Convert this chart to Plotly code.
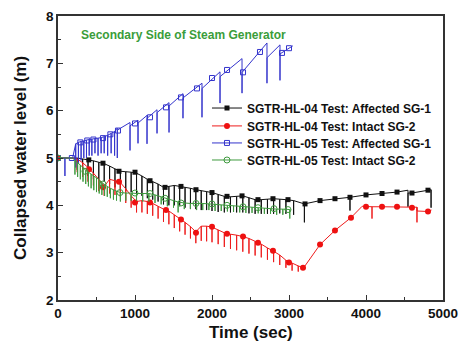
import plotly.graph_objects as go

# ---------------- data ----------------
# Each series: line vertices as (time, level) with an optional downward spike
# to "bot" at that time (bot == top means plain vertex).

# SGTR-HL-04 Test: Affected SG-1 (black)
blk_t   = [0, 200, 250, 320, 390, 460, 530, 600, 670, 740, 810, 880, 950, 1020, 1090, 1160,
           1230, 1300, 1370, 1440, 1510, 1580, 1650, 1720, 1790, 1860, 1930, 2000, 2080, 2160,
           2240, 2320, 2400, 2480, 2560, 2640, 2720, 2800, 2880, 2960, 3060, 3200, 3403, 3597,
           3792, 4000, 4208, 4403, 4545, 4546, 4597, 4805, 4845]
blk_top = [5.00, 5.00, 5.00, 4.98, 4.96, 4.94, 4.91, 4.88, 4.83, 4.77, 4.72, 4.71, 4.70, 4.68,
           4.62, 4.55, 4.50, 4.45, 4.38, 4.40, 4.42, 4.40, 4.38, 4.36, 4.33, 4.31, 4.29, 4.27,
           4.23, 4.19, 4.18, 4.19, 4.20, 4.16, 4.12, 4.12, 4.13, 4.14, 4.13, 4.12, 4.10, 4.03,
           4.10, 4.14, 4.17, 4.22, 4.25, 4.28, 4.32, 4.26, 4.26, 4.32, 4.33]
blk_bot = [5.00, 5.00, 4.75, 4.70, 4.62, 4.55, 4.55, 4.50, 4.45, 4.38, 4.30, 4.30, 4.28, 4.25,
           4.20, 4.15, 4.12, 4.08, 4.02, 4.00, 4.00, 3.98, 3.95, 3.93, 3.92, 3.90, 3.90, 3.88,
           3.86, 3.85, 3.85, 3.85, 3.85, 3.83, 3.82, 3.82, 3.82, 3.82, 3.83, 3.82, 3.80, 3.64,
           4.10, 4.14, 3.89, 4.22, 4.25, 4.28, 3.97, 4.26, 4.26, 4.32, 3.95]
blk_mt  = [0, 400, 584, 792, 1000, 1195, 1390, 1597, 1792, 2000, 2195, 2390, 2597, 2792, 2987,
           3208, 3403, 3597, 3792, 4000, 4208, 4403, 4597, 4805]
blk_my  = [5.00, 4.96, 4.89, 4.72, 4.70, 4.52, 4.38, 4.40, 4.33, 4.27, 4.19, 4.20, 4.12, 4.14,
           4.12, 4.03, 4.10, 4.14, 4.17, 4.22, 4.25, 4.28, 4.26, 4.32]

# SGTR-HL-04 Test: Intact SG-2 (red)
red_t   = [0, 180, 250, 320, 390, 460, 530, 600, 670, 740, 810, 880, 950, 1020, 1090, 1160,
           1230, 1300, 1370, 1440, 1510, 1580, 1650, 1720, 1790, 1860, 1930, 2000, 2080, 2160,
           2240, 2320, 2400, 2480, 2560, 2640, 2720, 2800, 2880, 2960, 3040, 3120, 3190, 3403,
           3597, 3805, 3950, 4078, 4208, 4403, 4597, 4662, 4663, 4805, 4850]
red_top = [5.00, 5.00, 4.98, 4.90, 4.80, 4.68, 4.55, 4.40, 4.55, 4.52, 4.48, 4.35, 4.20, 4.08,
           4.10, 4.08, 4.04, 3.98, 3.92, 3.88, 3.80, 3.72, 3.64, 3.55, 3.44, 3.56, 3.56, 3.54,
           3.48, 3.42, 3.39, 3.37, 3.34, 3.30, 3.24, 3.18, 3.10, 3.03, 2.95, 2.84, 2.78, 2.72,
           2.68, 3.17, 3.47, 3.74, 3.98, 3.97, 3.97, 3.97, 3.96, 3.96, 3.88, 3.87, 3.90]
red_bot = [5.00, 5.00, 4.70, 4.60, 4.50, 4.42, 4.30, 4.20, 4.25, 4.22, 4.18, 4.05, 3.95, 3.85,
           3.85, 3.82, 3.78, 3.72, 3.65, 3.60, 3.52, 3.45, 3.38, 3.30, 3.20, 3.25, 3.24, 3.22,
           3.18, 3.12, 3.08, 3.05, 3.02, 2.98, 2.94, 2.90, 2.85, 2.80, 2.74, 2.68, 2.62, 2.60,
           2.68, 3.17, 3.47, 3.74, 3.98, 3.72, 3.97, 3.97, 3.96, 3.64, 3.88, 3.87, 3.90]
red_mt  = [0, 403, 584, 792, 1000, 1195, 1403, 1597, 1792, 2000, 2195, 2403, 2597, 2792, 3000,
           3182, 3403, 3597, 3805, 4000, 4208, 4403, 4597, 4805]
red_my  = [5.00, 4.76, 4.38, 4.50, 4.06, 4.06, 3.90, 3.70, 3.42, 3.55, 3.40, 3.34, 3.21, 3.04,
           2.79, 2.68, 3.17, 3.47, 3.74, 3.97, 3.97, 3.97, 3.95, 3.87]

# SGTR-HL-05 Test: Affected SG-1 (blue)
blu_t   = [0, 60, 90, 190, 230, 265, 300, 335, 370, 405, 440, 480, 520, 560, 600, 645, 690,
           735, 770, 771, 935, 936, 1039, 1040, 1156, 1157, 1286, 1287, 1442, 1443, 1623, 1624,
           1870, 1871, 2104, 2105, 2390, 2391, 2714, 2715, 2883, 2884, 3050]
blu_top = [5.00, 5.00, 5.00, 5.00, 5.30, 5.33, 5.35, 5.36, 5.38, 5.39, 5.40, 5.41, 5.42, 5.43,
           5.45, 5.48, 5.52, 5.56, 5.63, 5.59, 5.75, 5.68, 5.80, 5.74, 5.90, 5.84, 6.02, 5.96,
           6.17, 6.10, 6.36, 6.27, 6.58, 6.47, 6.82, 6.72, 7.10, 6.81, 7.43, 7.12, 7.39, 7.20,
           7.37]
blu_bot = [5.00, 5.00, 4.62, 5.00, 4.80, 4.90, 4.95, 5.00, 5.00, 5.05, 5.05, 5.10, 5.05, 5.10,
           5.10, 5.05, 5.10, 5.05, 5.00, 5.59, 5.16, 5.68, 5.31, 5.74, 5.30, 5.84, 5.52, 5.96,
           5.54, 6.10, 5.84, 6.27, 5.86, 6.47, 6.16, 6.72, 6.37, 6.81, 6.58, 7.12, 6.64, 7.20,
           7.37]
blu_mt  = [0, 180, 290, 380, 460, 584, 680, 779, 1000, 1195, 1403, 1597, 1805, 2000, 2195,
           2403, 2623, 2909, 3000]
blu_my  = [5.00, 5.00, 5.33, 5.37, 5.39, 5.42, 5.50, 5.58, 5.73, 5.86, 6.07, 6.28, 6.47, 6.69,
           6.86, 6.81, 7.24, 7.22, 7.32]

# SGTR-HL-05 Test: Intact SG-2 (green)
grn_t   = [0, 190, 220, 255, 290, 325, 360, 395, 430, 465, 500, 535, 570, 605, 640, 680, 720,
           760, 810, 880, 950, 1020, 1100, 1180, 1260, 1340, 1420, 1500, 1560, 1640, 1720, 1800,
           1880, 1960, 2040, 2120, 2200, 2280, 2360, 2440, 2520, 2600, 2680, 2760, 2840, 2920,
           3010, 3020]
grn_top = [5.00, 5.00, 4.95, 4.90, 4.85, 4.80, 4.74, 4.70, 4.66, 4.62, 4.58, 4.54, 4.48, 4.44,
           4.40, 4.36, 4.33, 4.30, 4.27, 4.26, 4.26, 4.25, 4.25, 4.25, 4.22, 4.18, 4.14, 4.10,
           4.07, 4.05, 4.04, 4.04, 4.04, 4.03, 4.02, 4.01, 4.00, 3.99, 3.98, 3.97, 3.96, 3.95,
           3.94, 3.93, 3.92, 3.92, 3.91, 3.91]
grn_bot = [5.00, 5.00, 4.65, 4.60, 4.55, 4.50, 4.45, 4.40, 4.36, 4.32, 4.28, 4.25, 4.22, 4.20,
           4.18, 4.15, 4.12, 4.10, 4.08, 4.10, 4.10, 4.10, 4.08, 4.08, 4.05, 4.02, 3.98, 3.95,
           3.85, 3.92, 3.92, 3.90, 3.90, 3.90, 3.88, 3.88, 3.87, 3.86, 3.85, 3.84, 3.84, 3.83,
           3.82, 3.82, 3.80, 3.80, 3.72, 3.91]
grn_mt  = [0, 350, 584, 805, 1000, 1195, 1390, 1597, 1792, 2000, 2195, 2403, 2597, 2805, 2987]
grn_my  = [5.00, 4.72, 4.45, 4.27, 4.26, 4.25, 4.15, 4.05, 4.04, 4.03, 4.00, 3.97, 3.95, 3.93,
           3.91]

names = ["SGTR-HL-04 Test: Affected SG-1", "SGTR-HL-04 Test: Intact SG-2",
         "SGTR-HL-05 Test: Affected SG-1", "SGTR-HL-05 Test: Intact SG-2"]
x_ticks = [0, 1000, 2000, 3000, 4000, 5000]
y_ticks = [2, 3, 4, 5, 6, 7, 8]


def polyline(ts, tops, bots):
    xs, ys = [], []
    for t, a, b in zip(ts, tops, bots):
        xs.append(t); ys.append(a)
        if b != a:
            xs += [t, t]; ys += [b, a]
    return xs, ys


series = [
    (blk_t, blk_top, blk_bot, blk_mt, blk_my, "#111111",
     dict(symbol="square", size=5, color="#111111", line=dict(width=0))),
    (red_t, red_top, red_bot, red_mt, red_my, "#ee1c1c",
     dict(symbol="circle", size=6, color="#ee1111", line=dict(width=0))),
    (blu_t, blu_top, blu_bot, blu_mt, blu_my, "#3434cc",
     dict(symbol="square-open", size=5, color="#3434cc", line=dict(width=1))),
    (grn_t, grn_top, grn_bot, grn_mt, grn_my, "#3f9a3f",
     dict(symbol="circle-open", size=6, color="#3f9a3f", line=dict(width=1))),
]

font_family = "Liberation Sans, Arial, sans-serif"
legend_ids = ["legend", "legend2", "legend3", "legend4"]
legend_y = [0.676, 0.613, 0.553, 0.493]

fig = go.Figure()
for (ts, tops, bots, mt, my, col, mk), nm in zip(series, names):
    xs, ys = polyline(ts, tops, bots)
    fig.add_trace(go.Scatter(x=xs, y=ys, mode="lines", line=dict(color=col, width=1),
                             showlegend=False, hoverinfo="skip"))
    fig.add_trace(go.Scatter(x=mt, y=my, mode="markers", marker=mk, showlegend=False))
for (ts, tops, bots, mt, my, col, mk), nm, lid in zip(series, names, legend_ids):
    fig.add_trace(go.Scatter(x=[None], y=[None], mode="lines+markers", name=nm, legend=lid,
                             line=dict(color=col, width=1), marker=mk))

axis_common = dict(showline=True, linewidth=1.5, linecolor="#333", mirror=True,
                   ticks="inside", ticklen=5, tickwidth=1.2, tickcolor="#333",
                   showgrid=False, zeroline=False, automargin=False,
                   tickfont=dict(family=font_family, size=13.5, color="#111", weight="bold"))

legend_layout = {}
for lid, ly in zip(legend_ids, legend_y):
    legend_layout[lid] = dict(x=0.387, y=ly, xanchor="left", yanchor="middle",
                              bgcolor="rgba(255,255,255,0)", borderwidth=0,
                              font=dict(family=font_family, size=12, color="#111",
                                        weight="bold"))

fig.update_layout(
    width=462, height=346,
    margin=dict(l=58, r=19, t=16, b=46),
    paper_bgcolor="white", plot_bgcolor="white",
    showlegend=True,
    xaxis=dict(range=[0, 5000], tickvals=x_ticks, **axis_common,
               minor=dict(dtick=500, ticks="inside", ticklen=3, tickcolor="#333")),
    yaxis=dict(range=[2, 8], tickvals=y_ticks, **axis_common,
               minor=dict(dtick=0.5, ticks="inside", ticklen=3, tickcolor="#333")),
    annotations=[
        dict(text="Secondary Side of Steam Generator", xref="paper", yref="paper",
             x=0.327, y=0.933, xanchor="center", yanchor="middle", showarrow=False,
             font=dict(family=font_family, size=12, color="#3a9d3a", weight="bold")),
        dict(text="Time (sec)", xref="paper", yref="paper", x=0.5, y=-0.116,
             xanchor="center", yanchor="middle", showarrow=False,
             font=dict(family=font_family, size=17, color="#111", weight="bold")),
        dict(text="Collapsed water level (m)", xref="paper", yref="paper", x=-0.0987, y=0.5,
             xanchor="center", yanchor="middle", showarrow=False, textangle=-90,
             font=dict(family=font_family, size=17, color="#111", weight="bold")),
    ],
    **legend_layout,
)

fig.write_html("out.html", config={"displayModeBar": False},
               post_script="document.body.style.margin='0';document.body.style.overflow='hidden';")
